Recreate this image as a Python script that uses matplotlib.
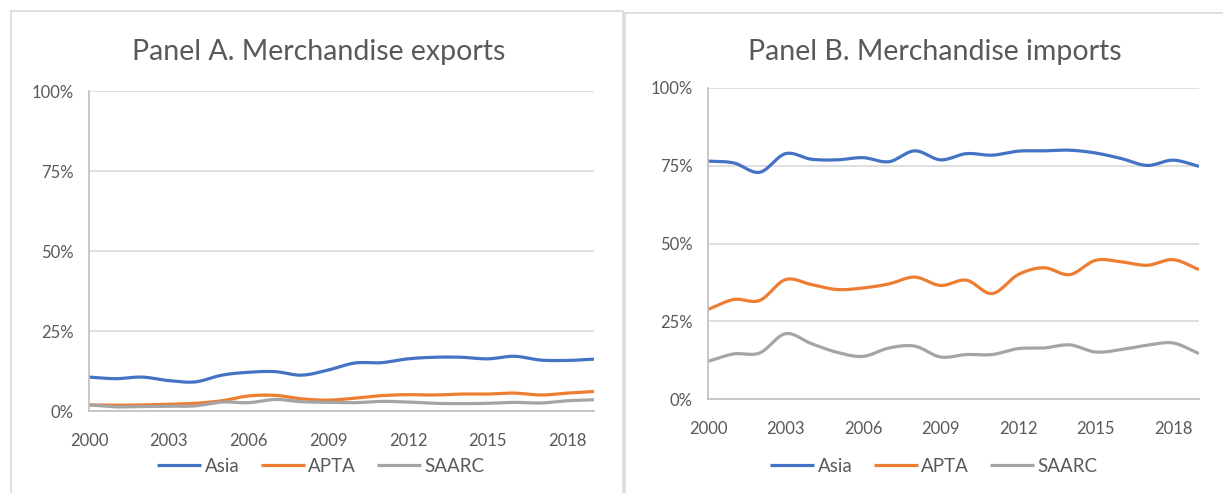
import numpy as np
import matplotlib.pyplot as plt
from matplotlib.patches import Rectangle
from matplotlib.ticker import FuncFormatter

years = list(range(2000, 2020))

# Panel A - exports (%)
exp_asia = [10.6, 10.1, 10.6, 9.5, 9.1, 11.2, 12.1, 12.3, 11.2, 12.8,
            15.0, 15.1, 16.3, 16.8, 16.8, 16.3, 17.1, 15.9, 15.8, 16.2]
exp_apta = [1.9, 1.8, 1.9, 2.1, 2.4, 3.2, 4.7, 4.9, 3.8, 3.4,
            4.0, 4.8, 5.1, 5.0, 5.3, 5.3, 5.6, 5.0, 5.6, 6.1]
exp_saarc = [1.9, 1.3, 1.4, 1.5, 1.6, 2.8, 2.6, 3.6, 2.9, 2.7,
             2.6, 3.0, 2.8, 2.4, 2.3, 2.4, 2.7, 2.5, 3.2, 3.5]

# Panel B - imports (%)
imp_asia = [76.5, 75.9, 72.9, 78.9, 77.1, 76.9, 77.6, 76.3, 79.8, 76.9,
            78.9, 78.4, 79.7, 79.8, 80.0, 79.1, 77.3, 75.1, 76.8, 74.8]
imp_apta = [28.8, 32.0, 31.7, 38.4, 36.8, 35.2, 35.7, 37.0, 39.2, 36.5,
            38.2, 33.9, 40.0, 42.2, 40.0, 44.6, 44.1, 43.0, 44.8, 41.6]
imp_saarc = [12.1, 14.5, 14.8, 21.0, 17.8, 15.0, 13.7, 16.4, 17.0, 13.5,
             14.3, 14.3, 16.2, 16.4, 17.4, 15.1, 15.9, 17.3, 18.0, 14.6]

series_names = ['Asia', 'APTA', 'SAARC']
colors = ['#4472C4', '#ED7D31', '#A5A5A5']
xticks = [2000, 2003, 2006, 2009, 2012, 2015, 2018]
yticks = [0, 25, 50, 75, 100]

txt = '#595959'
grid = '#D9D9D9'
plt.rcParams['font.family'] = ['Lato', 'DejaVu Sans']


def smooth(x, y, n=12):
    # catmull-rom, like excel "smoothed line"
    x = np.asarray(x, float)
    y = np.asarray(y, float)
    px = np.concatenate([[2 * x[0] - x[1]], x, [2 * x[-1] - x[-2]]])
    py = np.concatenate([[2 * y[0] - y[1]], y, [2 * y[-1] - y[-2]]])
    xs, ys = [], []
    t = np.linspace(0, 1, n, endpoint=False)
    for i in range(1, len(px) - 2):
        for p, out in ((px, xs), (py, ys)):
            p0, p1, p2, p3 = p[i - 1], p[i], p[i + 1], p[i + 2]
            out.extend(0.5 * ((2 * p1) + (-p0 + p2) * t
                              + (2 * p0 - 5 * p1 + 4 * p2 - p3) * t ** 2
                              + (-p0 + 3 * p1 - 3 * p2 + p3) * t ** 3))
    xs.append(x[-1])
    ys.append(y[-1])
    return xs, ys


W, H = 1223, 493
fig = plt.figure(figsize=(W / 100, H / 100), dpi=100)

# chart boxes
fig.patches.append(Rectangle((11 / W, -0.1), (623 - 11) / W, 1.1 - 11 / H,
                             transform=fig.transFigure, fill=False,
                             edgecolor=grid, lw=1.2))
fig.patches.append(Rectangle((625 / W, -0.1), 0.6, 1.1 - 13 / H,
                             transform=fig.transFigure, fill=False,
                             edgecolor=grid, lw=1.2))


def panel(rect, data, title, title_x, leg_x):
    ax = fig.add_axes(rect)
    for vals, name, c in zip(data, series_names, colors):
        sx, sy = smooth(years, vals)
        ax.plot(sx, sy, color=c, lw=2.3, label=name, solid_capstyle='butt')
    ax.set_xlim(2000, 2019)
    ax.set_ylim(0, 100)
    ax.set_xticks(xticks)
    ax.set_yticks(yticks)
    ax.yaxis.set_major_formatter(FuncFormatter(lambda v, p: '%d%%' % v))
    ax.tick_params(length=0, labelsize=12, colors=txt, pad=11)
    ax.tick_params(axis='x', pad=16)
    ax.grid(axis='y', color=grid, lw=1.2)
    ax.set_axisbelow(True)
    for s in ['top', 'right']:
        ax.spines[s].set_visible(False)
    for s in ['left', 'bottom']:
        ax.spines[s].set_color('#BFBFBF')
        ax.spines[s].set_linewidth(1.2)
    fig.text(title_x, 1 - 52 / H, title, ha='center', va='center',
             fontsize=20.5, color=txt)
    fig.legend(*ax.get_legend_handles_labels(), loc='center',
               bbox_to_anchor=(leg_x, 1 - 466 / H), ncol=3, frameon=False,
               fontsize=13.5, labelcolor=txt, handlelength=2.35,
               handletextpad=0.2, columnspacing=1.1)
    return ax


panel([89 / W, 1 - 411 / H, 505 / W, 320 / H],
      [exp_asia, exp_apta, exp_saarc],
      'Panel A. Merchandise exports', 319 / W, 321 / W)
panel([708 / W, 1 - 399 / H, 491 / W, 311 / H],
      [imp_asia, imp_apta, imp_saarc],
      'Panel B. Merchandise imports', 935 / W, 934 / W)

plt.savefig('out.png', dpi=100)
